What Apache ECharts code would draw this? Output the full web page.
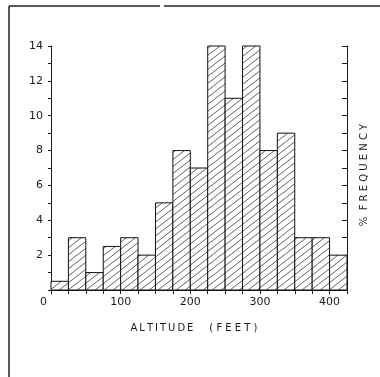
<!DOCTYPE html>
<html>
<head>
<meta charset="utf-8">
<script src="https://cdn.jsdelivr.net/npm/echarts@6/dist/echarts.min.js"></script>
<style>
html,body{margin:0;padding:0;background:#fff;}
#chart{width:380px;height:377px;}
</style>
</head>
<body>
<div id="chart"></div>
<script>
// Altitude bins (feet): start and end of each bin
const binStart = [0, 25, 50, 75, 100, 125, 150, 175, 200, 225, 250, 275, 300, 325, 350, 375, 400];
const binEnd   = [25, 50, 75, 100, 125, 150, 175, 200, 225, 250, 275, 300, 325, 350, 375, 400, 425];
// % frequency per bin
const freq     = [0.5, 3, 1, 2.5, 3, 2, 5, 8, 7, 14, 11, 14, 8, 9, 3, 3, 2];
// tick labels
const xTickLabels = [0, 100, 200, 300, 400];
const yTickLabels = [2, 4, 6, 8, 10, 12, 14];

const xName = 'A\u2009L\u2009T\u2009I\u2009T\u2009U\u2009D\u2009E     ( F E E T )';
const yName = '%  F R E Q U E N C Y';

// hatch pattern
const tile = document.createElement('canvas');
const tw = 9, th = 7;
tile.width = tw; tile.height = th;
const tc = tile.getContext('2d');
tc.fillStyle = '#fff';
tc.fillRect(0, 0, tw, th);
tc.strokeStyle = '#3a3a3a';
tc.lineWidth = 0.8;
tc.beginPath();
tc.moveTo(-tw, th * 2); tc.lineTo(tw * 2, -th);
tc.moveTo(-tw * 2, th * 2); tc.lineTo(tw, -th);
tc.moveTo(0, th * 2); tc.lineTo(tw * 3, -th);
tc.stroke();

const data = binStart.map((s, i) => [s, binEnd[i], freq[i]]);
const font = '"DejaVu Sans", sans-serif';
const ink = '#1a1a1a';

const chart = echarts.init(document.getElementById('chart'), null, {renderer: 'canvas'});
chart.setOption({
  animation: false,
  backgroundColor: '#fff',
  grid: {left: 51, right: 33, top: 46, bottom: 87, containLabel: false},
  xAxis: {
    type: 'value', min: 0, max: 425, interval: 25,
    axisLine: {lineStyle: {color: ink, width: 1}},
    axisTick: {show: true, inside: false, length: 4, lineStyle: {color: ink}},
    splitLine: {show: false},
    axisLabel: {
      color: ink, fontSize: 11, fontFamily: font, margin: 7,
      formatter: v => v === 0 ? '{z|0}' : (xTickLabels.indexOf(v) >= 0 ? String(v) : ''),
      rich: {z: {fontSize: 11, fontFamily: font, color: ink, padding: [0, 15, 0, 0]}}
    },
    name: xName, nameLocation: 'middle', nameGap: 33,
    nameTextStyle: {color: ink, fontSize: 10, fontFamily: font, padding: [0, 10, 0, 0]}
  },
  yAxis: [{
    type: 'value', min: 0, max: 14, interval: 1, position: 'left',
    axisLine: {show: true, lineStyle: {color: ink, width: 1}},
    axisTick: {show: true, inside: false, length: 3, lineStyle: {color: ink}},
    splitLine: {show: false},
    axisLabel: {
      color: ink, fontSize: 11, fontFamily: font, margin: 8,
      formatter: v => yTickLabels.indexOf(v) >= 0 ? String(v) : ''
    }
  }, {
    type: 'value', min: 0, max: 14, interval: 1, position: 'right',
    axisLine: {show: true, lineStyle: {color: ink, width: 1}},
    axisTick: {show: true, inside: true, length: 5, lineStyle: {color: ink}},
    splitLine: {show: false},
    axisLabel: {show: false},
    name: yName, nameLocation: 'middle', nameRotate: 90, nameGap: 12,
    nameTextStyle: {color: ink, fontSize: 10, fontFamily: font, padding: [0, 14, 0, 0]}
  }],
  series: [{
    type: 'custom',
    data: data,
    encode: {x: [0, 1], y: 2},
    renderItem: function (params, api) {
      const x0 = api.value(0), x1 = api.value(1), h = api.value(2);
      const p0 = api.coord([x0, h]);
      const p1 = api.coord([x1, 0]);
      return {
        type: 'rect',
        shape: {x: p0[0], y: p0[1], width: p1[0] - p0[0], height: p1[1] - p0[1]},
        style: {fill: {image: tile, repeat: 'repeat'}, stroke: '#111', lineWidth: 1}
      };
    }
  }],
  graphic: [
    {type: 'line', shape: {x1: 9, y1: 6, x2: 160, y2: 6}, style: {stroke: '#222', lineWidth: 1.5}},
    {type: 'line', shape: {x1: 164, y1: 6, x2: 380, y2: 6}, style: {stroke: '#222', lineWidth: 1.5}},
    {type: 'line', shape: {x1: 9, y1: 6, x2: 9, y2: 377}, style: {stroke: '#222', lineWidth: 1.5}}
  ]
});
</script>
</body>
</html>
